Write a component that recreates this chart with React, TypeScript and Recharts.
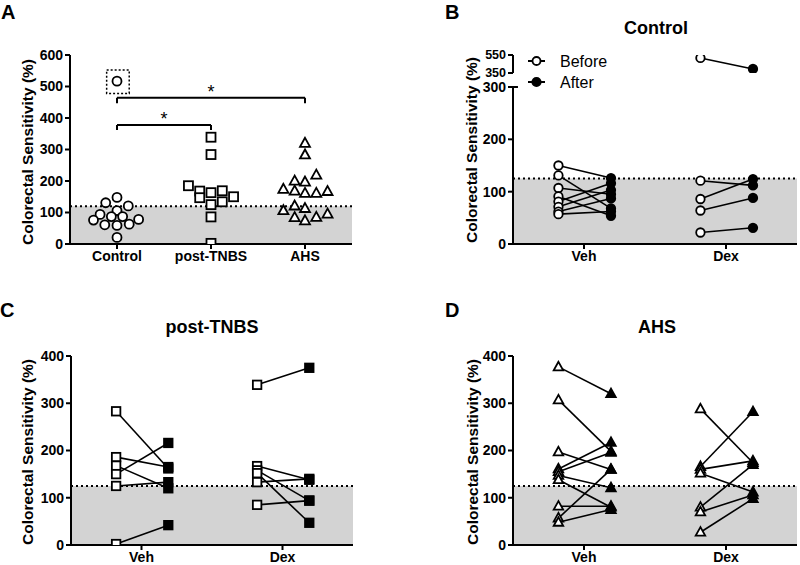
import React from 'react';
import {
  ScatterChart,
  Scatter,
  XAxis,
  YAxis,
  ReferenceArea,
  ReferenceLine,
  Legend,
} from 'recharts';

const FONT = '"Liberation Sans", Arial, Helvetica, sans-serif';

// ---------- Panel A ----------
const groupNames = ['Control', 'post-TNBS', 'AHS'];
const controlValues = [517, 148, 131, 121, 106, 94, 87, 87, 76, 78, 61, 59, 63, 21];
const controlSpread = [0.5, 0.5, 0.38, 0.62, 0.5, 0.32, 0.44, 0.56, 0.25, 0.73, 0.37, 0.5, 0.63, 0.5];
const tnbsValues = [339, 284, 185, 168, 163, 169, 147, 150, 125, 134, 86, 2];
const tnbsSpread = [1.5, 1.5, 1.26, 1.38, 1.5, 1.62, 1.38, 1.74, 1.5, 1.62, 1.5, 1.5];
const ahsValues = [320, 283, 219, 200, 197, 174, 168, 161, 161, 167, 121, 113, 106, 95, 84, 74, 85];
const ahsSpread = [2.5, 2.5, 2.62, 2.39, 2.5, 2.27, 2.39, 2.5, 2.62, 2.74, 2.39, 2.5, 2.27, 2.74, 2.39, 2.5, 2.62];
const ticksA = [0, 100, 200, 300, 400, 500, 600];
const thresholdA = 120;

// ---------- Panels B-D ----------
const treatmentNames = ['Veh', 'Dex'];
const thresholdBCD = 125;
const ticksLowB = [0, 100, 200, 300];
const ticksHighB = [350, 550];
const ticksCD = [0, 100, 200, 300, 400];

const bVehBefore = [150, 131, 107, 91, 81, 71, 62, 57];
const bVehAfter = [126, 68, 95, 54, 116, 103, 87, 62];
const bDexBefore = [121, 86, 64, 22];
const bDexAfter = [112, 124, 88, 31];
const bDexHighBefore = [517];
const bDexHighAfter = [395];

const cVehBefore = [283, 186, 168, 150, 125, 2];
const cVehAfter = [162, 165, 120, 216, 133, 42];
const cDexBefore = [339, 167, 158, 152, 133, 85];
const cDexAfter = [375, 138, 94, 47, 140, 94];

const dVehBefore = [377, 307, 197, 161, 155, 147, 138, 82, 57, 48];
const dVehAfter = [320, 198, 160, 217, 196, 121, 80, 82, 160, 75];
const dDexBefore = [288, 166, 160, 152, 80, 70, 27];
const dDexAfter = [174, 282, 178, 112, 170, 106, 98];

type Pt = { x: number; y: number; kind: 'b' | 'a' };

const column = (vals: number[], xs: number[]): Pt[] =>
  vals.map((v, i) => ({ x: xs[i], y: v, kind: 'b' }));

const pairs = (before: number[], after: number[], center: number): Pt[][] =>
  before.map((b, i) => [
    { x: center - 0.18, y: b, kind: 'b' },
    { x: center + 0.19, y: after[i], kind: 'a' },
  ]);

type Kind = 'circle' | 'square' | 'triangle';

const marker = (type: Kind, size: number) => (p: any) => {
  const { cx, cy } = p;
  if (cx == null || cy == null) return <g />;
  const filled = p.payload && p.payload.kind === 'a';
  const fill = filled ? '#000' : '#fff';
  const sw = 1.8;
  if (type === 'circle') {
    return <circle cx={cx} cy={cy} r={size / 2} fill={fill} stroke="#000" strokeWidth={sw} />;
  }
  if (type === 'square') {
    return (
      <rect x={cx - size / 2} y={cy - size / 2} width={size} height={size} fill={fill} stroke="#000" strokeWidth={sw} />
    );
  }
  const h = size * 0.9;
  const pts = `${cx},${cy - h * 0.6} ${cx - size / 2},${cy + h * 0.4} ${cx + size / 2},${cy + h * 0.4}`;
  return <polygon points={pts} fill={fill} stroke="#000" strokeWidth={sw} strokeLinejoin="miter" />;
};

const axisStroke = { stroke: '#000', strokeWidth: 2 };
const tickStyle = { fill: '#000', fontSize: 14, fontWeight: 700, fontFamily: FONT };
const tickStyleSmall = { fill: '#000', fontSize: 12.5, fontWeight: 700, fontFamily: FONT };
const lineStyle = { stroke: '#000', strokeWidth: 1.6 };

const LegendContent = () => (
  <svg width={110} height={46} style={{ display: 'block', overflow: 'visible' }}>
    <line x1={2} x2={19} y1={11} y2={11} stroke="#000" strokeWidth={2} />
    <circle cx={10.5} cy={11} r={4} fill="#fff" stroke="#000" strokeWidth={1.8} />
    <text x={34} y={16.5} fontSize={16} fontFamily={FONT} fill="#000">Before</text>
    <line x1={2} x2={19} y1={32} y2={32} stroke="#000" strokeWidth={2} />
    <circle cx={10.5} cy={32} r={4.2} fill="#000" stroke="#000" strokeWidth={1.8} />
    <text x={34} y={37.5} fontSize={16} fontFamily={FONT} fill="#000">After</text>
  </svg>
);

const PairPanel = ({
  left,
  top,
  height,
  margin,
  yDomain,
  yTicks,
  series,
  type,
  size,
  hideX,
  threshold,
  yTick,
  children,
}: any) => (
  <div style={{ position: 'absolute', left, top }}>
    <ScatterChart width={400} height={height} margin={margin}>
      <XAxis
        type="number"
        dataKey="x"
        domain={[0, 2]}
        ticks={[0.5, 1.5]}
        interval={0}
        tickFormatter={(v: number) => treatmentNames[Math.floor(v)]}
        axisLine={axisStroke}
        tickLine={axisStroke}
        tickSize={5}
        tick={tickStyle}
        height={30}
        hide={hideX}
        allowDataOverflow
      />
      <YAxis
        type="number"
        dataKey="y"
        domain={yDomain}
        ticks={yTicks}
        interval={0}
        width={45}
        axisLine={axisStroke}
        tickLine={axisStroke}
        tickSize={5}
        tick={yTick || tickStyle}
        allowDataOverflow
      />
      {threshold != null && (
        <ReferenceArea x1={0} x2={2} y1={0} y2={threshold} fill="#d3d3d3" fillOpacity={1} stroke="none" />
      )}
      {threshold != null && (
        <ReferenceLine y={threshold} stroke="#000" strokeWidth={2} strokeDasharray="2 3" />
      )}
      {children}
      {series.map((d: Pt[], i: number) => (
        <Scatter
          key={i}
          data={d}
          line={lineStyle}
          lineType="joint"
          shape={marker(type, size)}
          isAnimationActive={false}
        />
      ))}
    </ScatterChart>
  </div>
);

export default function App() {
  const dataControl = column(controlValues, controlSpread);
  const dataTnbs = column(tnbsValues, tnbsSpread);
  const dataAhs = column(ahsValues, ahsSpread);

  const bLow = [...pairs(bVehBefore, bVehAfter, 0.5), ...pairs(bDexBefore, bDexAfter, 1.5)];
  const bHigh = pairs(bDexHighBefore, bDexHighAfter, 1.5);
  const cSeries = [...pairs(cVehBefore, cVehAfter, 0.5), ...pairs(cDexBefore, cDexAfter, 1.5)];
  const dSeries = [...pairs(dVehBefore, dVehAfter, 0.5), ...pairs(dDexBefore, dDexAfter, 1.5)];

  const yLabel = 'Colorectal Sensitivity (%)';

  return (
    <div
      style={{
        position: 'absolute',
        left: 0,
        top: 0,
        width: 800,
        height: 565,
        background: '#fff',
        overflow: 'hidden',
        fontFamily: FONT,
      }}
    >
      {/* Panel A */}
      <div style={{ position: 'absolute', left: 0, top: 0 }}>
        <ScatterChart width={380} height={280} margin={{ top: 55, right: 28, bottom: 6, left: 30 }}>
          <XAxis
            type="number"
            dataKey="x"
            domain={[0, 3]}
            ticks={[0.5, 1.5, 2.5]}
            interval={0}
            tickFormatter={(v: number) => groupNames[Math.floor(v)]}
            axisLine={axisStroke}
            tickLine={axisStroke}
            tickSize={5}
            tick={tickStyle}
            height={30}
            allowDataOverflow
          />
          <YAxis
            type="number"
            dataKey="y"
            domain={[0, 600]}
            ticks={ticksA}
            interval={0}
            width={40}
            axisLine={axisStroke}
            tickLine={axisStroke}
            tickSize={5}
            tick={tickStyle}
            allowDataOverflow
          />
          <ReferenceArea x1={0} x2={3} y1={0} y2={thresholdA} fill="#d3d3d3" fillOpacity={1} stroke="none" />
          <ReferenceLine y={thresholdA} stroke="#000" strokeWidth={2} strokeDasharray="2 3" />
          <ReferenceArea
            x1={0.39}
            x2={0.63}
            y1={478}
            y2={552}
            fill="none"
            fillOpacity={0}
            stroke="#000"
            strokeWidth={1.5}
            strokeDasharray="2 2"
          />
          <ReferenceLine segment={[{ x: 0.5, y: 362 }, { x: 0.5, y: 378 }]} stroke="#000" strokeWidth={2} />
          <ReferenceLine segment={[{ x: 1.5, y: 362 }, { x: 1.5, y: 378 }]} stroke="#000" strokeWidth={2} />
          <ReferenceLine
            segment={[{ x: 0.5, y: 378 }, { x: 1.5, y: 378 }]}
            stroke="#000"
            strokeWidth={2}
            label={{ value: '*', position: 'top', offset: 0, fontSize: 18, fill: '#000', fontFamily: FONT }}
          />
          <ReferenceLine segment={[{ x: 0.5, y: 447 }, { x: 0.5, y: 464 }]} stroke="#000" strokeWidth={2} />
          <ReferenceLine segment={[{ x: 2.5, y: 447 }, { x: 2.5, y: 464 }]} stroke="#000" strokeWidth={2} />
          <ReferenceLine
            segment={[{ x: 0.5, y: 464 }, { x: 2.5, y: 464 }]}
            stroke="#000"
            strokeWidth={2}
            label={{ value: '*', position: 'top', offset: 0, fontSize: 18, fill: '#000', fontFamily: FONT }}
          />
          <Scatter data={dataControl} shape={marker('circle', 9)} isAnimationActive={false} />
          <Scatter data={dataTnbs} shape={marker('square', 9)} isAnimationActive={false} />
          <Scatter data={dataAhs} shape={marker('triangle', 10)} isAnimationActive={false} />
        </ScatterChart>
      </div>

      {/* Panel B lower */}
      <PairPanel
        left={400}
        top={0}
        height={280}
        margin={{ top: 87, right: 3, bottom: 6, left: 68 }}
        yDomain={[0, 300]}
        yTicks={ticksLowB}
        series={bLow}
        type="circle"
        size={8.5}
        threshold={thresholdBCD}
      >
        <ReferenceLine segment={[{ x: 0, y: 300 }, { x: 0.035, y: 300 }]} stroke="#000" strokeWidth={2} ifOverflow="visible" />
        <Legend
          content={() => <LegendContent />}
          layout="vertical"
          align="center"
          verticalAlign="middle"
          wrapperStyle={{ left: 126, top: 50, width: 110, height: 46 }}
        />
      </PairPanel>

      {/* Panel B upper (axis break) */}
      <PairPanel
        left={400}
        top={0}
        height={80}
        margin={{ top: 55, right: 3, bottom: 7, left: 68 }}
        yDomain={[350, 550]}
        yTicks={ticksHighB}
        series={bHigh}
        type="circle"
        size={8.5}
        hideX
        threshold={null}
        yTick={tickStyleSmall}
      />

      {/* Panel C */}
      <PairPanel
        left={0}
        top={280}
        height={300}
        margin={{ top: 76, right: 47, bottom: 5, left: 26 }}
        yDomain={[0, 400]}
        yTicks={ticksCD}
        series={cSeries}
        type="square"
        size={8.5}
        threshold={thresholdBCD}
      />

      {/* Panel D */}
      <PairPanel
        left={400}
        top={280}
        height={300}
        margin={{ top: 76, right: 3, bottom: 5, left: 68 }}
        yDomain={[0, 400]}
        yTicks={ticksCD}
        series={dSeries}
        type="triangle"
        size={9.5}
        threshold={thresholdBCD}
      />

      {/* Text overlay: panel letters, titles, axis titles */}
      <svg
        width={800}
        height={565}
        style={{ position: 'absolute', left: 0, top: 0, pointerEvents: 'none' }}
        fontFamily={FONT}
      >
        <text x={1} y={19} fontSize={20} fontWeight={700} fill="#000">A</text>
        <text x={445} y={19} fontSize={20} fontWeight={700} fill="#000">B</text>
        <text x={0} y={317} fontSize={20} fontWeight={700} fill="#000">C</text>
        <text x={445} y={317} fontSize={20} fontWeight={700} fill="#000">D</text>

        <text x={656} y={33.5} fontSize={18} fontWeight={700} textAnchor="middle" fill="#000">Control</text>
        <text x={212} y={333} fontSize={18} fontWeight={700} textAnchor="middle" fill="#000">post-TNBS</text>
        <text x={657} y={333} fontSize={18} fontWeight={700} textAnchor="middle" fill="#000">AHS</text>

        <text transform="translate(33,152) rotate(-90)" fontSize={15.5} fontWeight={700} textAnchor="middle" fill="#000">{yLabel}</text>
        <text transform="translate(476.5,150) rotate(-90)" fontSize={15.5} fontWeight={700} textAnchor="middle" fill="#000">{yLabel}</text>
        <text transform="translate(33,452) rotate(-90)" fontSize={15.5} fontWeight={700} textAnchor="middle" fill="#000">{yLabel}</text>
        <text transform="translate(478,452) rotate(-90)" fontSize={15.5} fontWeight={700} textAnchor="middle" fill="#000">{yLabel}</text>
      </svg>
    </div>
  );
}
